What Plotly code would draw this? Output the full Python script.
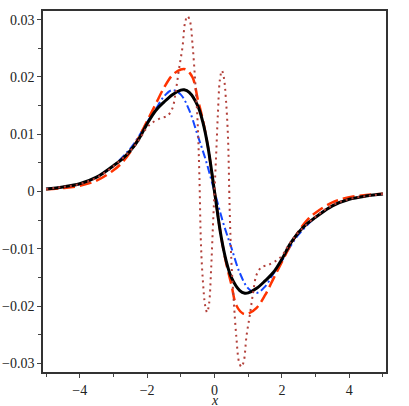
import plotly.graph_objects as go

# values
x_black = [-5, -4.5, -4, -3.5, -3, -2.75, -2.5, -2.25, -2, -1.75, -1.5, -1.25, -1, -0.9, -0.75, -0.5, -0.35, -0.2, 0,
           0.2, 0.35, 0.5, 0.75, 0.9, 1, 1.25, 1.5, 1.75, 2, 2.25, 2.5, 2.75, 3, 3.5, 4, 4.5, 5]
y_black = [0.00045, 0.0008, 0.00135, 0.0025, 0.0045, 0.0056, 0.0071, 0.0091, 0.0118, 0.0141, 0.0156, 0.0169, 0.0177,
           0.01775, 0.0173, 0.0150, 0.0122, 0.0080, 0,
           -0.0080, -0.0122, -0.0150, -0.0173, -0.01775, -0.0177, -0.0169, -0.0156, -0.0141, -0.0118, -0.0091,
           -0.0071, -0.0056, -0.0045, -0.0025, -0.00135, -0.0008, -0.00045]

x_red = [-5, -4.5, -4, -3.5, -3, -2.75, -2.5, -2.25, -2, -1.75, -1.5, -1.25, -1, -0.85, -0.65, -0.5, -0.35, -0.2, 0,
         0.2, 0.35, 0.5, 0.65, 0.85, 1, 1.25, 1.5, 1.75, 2, 2.25, 2.5, 2.75, 3, 3.5, 4, 4.5, 5]
y_red = [0.0004, 0.0006, 0.0010, 0.0019, 0.0037, 0.0050, 0.0069, 0.0094, 0.0123, 0.0152, 0.0181, 0.0203, 0.0213,
         0.0213, 0.0199, 0.0162, 0.0126, 0.0080, 0,
         -0.0080, -0.0126, -0.0162, -0.0199, -0.0213, -0.0213, -0.0203, -0.0181, -0.0152, -0.0123, -0.0094,
         -0.0069, -0.0050, -0.0037, -0.0019, -0.0010, -0.0006, -0.0004]

x_blue = [-5, -4.5, -4, -3.5, -3, -2.5, -2.25, -2, -1.75, -1.5, -1.25, -1, -0.75, -0.5, -0.25, 0,
          0.25, 0.5, 0.75, 1, 1.25, 1.5, 1.75, 2, 2.25, 2.5, 3, 3.5, 4, 4.5, 5]
y_blue = [0.00045, 0.0008, 0.0013, 0.0025, 0.0045, 0.0075, 0.0096, 0.0121, 0.0143, 0.0166, 0.0177, 0.0169, 0.0142,
          0.0098, 0.0053, 0,
          -0.0053, -0.0098, -0.0142, -0.0169, -0.0177, -0.0166, -0.0143, -0.0121, -0.0096, -0.0075, -0.0045,
          -0.0025, -0.0013, -0.0008, -0.00045]

x_dot = [-5, -4.5, -4, -3.5, -3, -2.5, -2.25, -2, -1.85, -1.6, -1.4, -1.25, -1.15, -1.05, -0.95, -0.87, -0.8, -0.73,
         -0.65, -0.57, -0.5, -0.45, -0.4, -0.34, -0.28, -0.22, -0.16, -0.1, -0.05, 0,
         0.05, 0.1, 0.16, 0.22, 0.28, 0.34, 0.4, 0.45, 0.5, 0.57, 0.65, 0.73, 0.8, 0.87, 0.95, 1.05, 1.15, 1.25,
         1.4, 1.6, 1.85, 2, 2.25, 2.5, 3, 3.5, 4, 4.5, 5]
y_dot = [0.00045, 0.0008, 0.0013, 0.0024, 0.0044, 0.0071, 0.0089, 0.0112, 0.0120, 0.0128, 0.0132, 0.0145, 0.0175,
         0.0215, 0.0252, 0.0296, 0.0306, 0.0298, 0.0255, 0.0190, 0.0120, 0.0030, -0.0095, -0.0160, -0.0198, -0.0211,
         -0.0195, -0.0135, -0.0065, 0,
         0.0065, 0.0135, 0.0195, 0.0211, 0.0198, 0.0160, 0.0095, -0.0030, -0.0120, -0.0190, -0.0255, -0.0298,
         -0.0306, -0.0296, -0.0252, -0.0215, -0.0175, -0.0145, -0.0132, -0.0128, -0.0120, -0.0112, -0.0089,
         -0.0071, -0.0044, -0.0024, -0.0013, -0.0008, -0.00045]

fig = go.Figure()
fig.add_trace(go.Scatter(x=x_blue, y=y_blue, mode='lines', line=dict(color='#1447FF', width=2, dash='8px,3px,2px,3px', shape='spline')))
fig.add_trace(go.Scatter(x=x_red, y=y_red, mode='lines', line=dict(color='#FF3300', width=2.5, dash='12px,5px', shape='spline')))
fig.add_trace(go.Scatter(x=x_black, y=y_black, mode='lines', line=dict(color='#000000', width=3, shape='spline')))
fig.add_trace(go.Scatter(x=x_dot, y=y_dot, mode='lines', line=dict(color='#B2403A', width=2, dash='2px,4px', shape='spline')))

axis_font = dict(family='Liberation Serif, Times New Roman, serif', size=14, color='#222')
fig.update_layout(
    width=409, height=406,
    margin=dict(l=43, r=23, t=11, b=34),
    paper_bgcolor='white', plot_bgcolor='white',
    showlegend=False,
    font=axis_font,
)
fig.update_xaxes(
    range=[-5.09, 5.09], tickvals=[-4, -2, 0, 2, 4], automargin=False,
    ticks='outside', ticklen=4, tickcolor='#444', tickfont=axis_font,
    minor=dict(ticks='outside', dtick=1, tick0=0, ticklen=3, tickcolor='#444'),
    showgrid=False, zeroline=False, showline=True, mirror=True, linecolor='#333', linewidth=1.5,
)
fig.update_yaxes(
    range=[-0.0315, 0.0315], dtick=0.01, tick0=0, automargin=False,
    ticks='outside', ticklen=4, tickcolor='#444', tickfont=axis_font,
    minor=dict(ticks='outside', dtick=0.005, tick0=0, ticklen=3, tickcolor='#444'),
    showgrid=False, zeroline=False, showline=True, mirror=True, linecolor='#333', linewidth=1.5,
)
fig.add_annotation(text='<i>x</i>', x=0, xref='x', y=0, yref='paper', yanchor='top', yshift=-19,
                   showarrow=False, font=axis_font)

# drop the default 8px page margin so the figure fills the window; no modebar
fig.write_html("out.html", config={'displayModeBar': False},
               post_script="document.body.style.margin='0px';")
